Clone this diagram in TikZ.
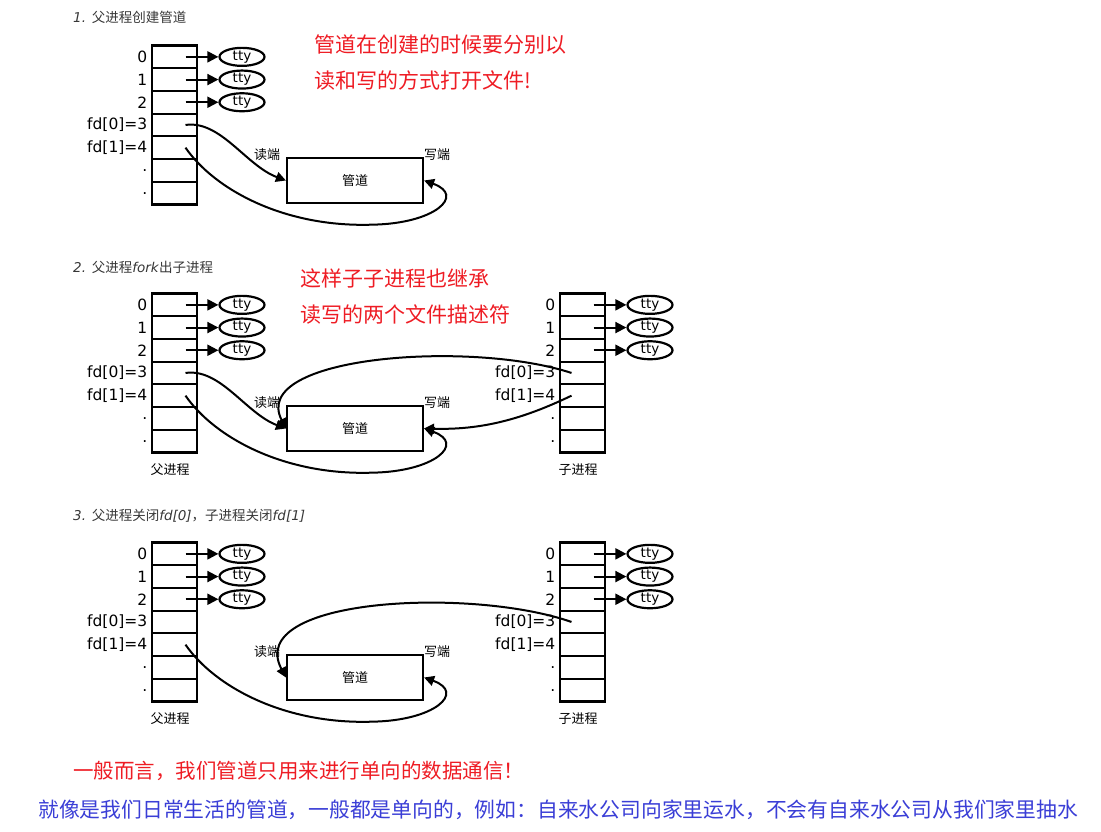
\documentclass[tikz,border=0pt]{standalone}
\usepackage{fontspec}
\setmainfont{DejaVu Sans}
\newfontfamily\cjk{Noto Sans CJK SC}
\usepackage{tikz}
\usetikzlibrary{positioning,arrows.meta,shapes.geometric,calc}

\definecolor{notered}{RGB}{238,28,36}
\definecolor{noteblue}{RGB}{58,62,214}
\definecolor{titlegray}{RGB}{55,55,55}

\begin{document}
\begin{tikzpicture}[x=1pt, y=-1pt,
    cell/.style={rectangle, draw, line width=2.2pt, minimum width=45pt, minimum height=22.7pt, inner sep=0pt, outer sep=0pt},
    fdlabel/.style={anchor=east, inner sep=0pt, font=\fontsize{15.5}{15.5}\selectfont},
    tty/.style={ellipse, draw, line width=2.2pt, minimum width=45pt, minimum height=18pt, inner sep=0pt, font=\fontsize{13.5}{13.5}\selectfont},
    pipe/.style={rectangle, draw, line width=2.2pt, minimum width=136pt, minimum height=45pt, font=\cjk\fontsize{13}{13}\selectfont},
    small/.style={inner sep=0pt, font=\cjk\fontsize{13}{13}\selectfont},
    title/.style={anchor=west, inner sep=0pt, text=titlegray, font=\fontsize{13.5}{13.5}\selectfont},
    note/.style={anchor=west, inner sep=0pt, text=notered, font=\cjk\fontsize{21}{21}\selectfont},
    arrow/.style={-{Triangle[length=10pt,width=10pt]}, line width=2pt}
]
\useasboundingbox (0,0) rectangle (1101,831);

% titles
\node[title] (title1) at (73,17) {\textit{1.} {\cjk 父进程创建管道}};
\node[title] (title2) at (73,267) {\textit{2.} {\cjk 父进程}\textit{fork}{\cjk 出子进程}};
\node[title] (title3) at (73,516) {\textit{3.} {\cjk 父进程关闭}\textit{fd[0]}{\cjk ，子进程关闭}\textit{fd[1]}};

% red remarks
\node[note] (note1a) at (314,45) {管道在创建的时候要分别以};
\node[note] (note1b) at (314,80) {读和写的方式打开文件!};
\node[note] (note2a) at (300,278) {这样子子进程也继承};
\node[note] (note2b) at (300,314) {读写的两个文件描述符};

% fd tables with tty
\foreach \tb/\x/\y in {p1/174.5/45.5, p2/174.5/293.5, c2/582.5/293.5, p3/174.5/542.5, c3/582.5/542.5} {
  \foreach \i/\lab in {0/0, 1/1, 2/2, 3/{fd[0]=3}, 4/{fd[1]=4}, 5/., 6/.} {
    \node[cell] (\tb r\i) at (\x, \y+11.35+22.7*\i) {};
    \node[fdlabel] (\tb l\i) at (\x-27, \y+11.35+22.7*\i) {\lab};
  }
  \foreach \i in {0,1,2} {
    \node[tty] (\tb t\i) at (\x+67.5, \y+11.35+22.7*\i) {tty};
    \draw[arrow, -{Triangle[length=11pt,width=11pt]}] ([xshift=11pt]\tb r\i.center) -- (\tb t\i);
  }
}
\node[small] (father2) at (170,470) {父进程};
\node[small] (child2) at (578,470) {子进程};
\node[small] (father3) at (170,719) {父进程};
\node[small] (child3) at (578,719) {子进程};

% pipes
\foreach \k/\y in {1/180.5, 2/428.5, 3/677.5} {
  \node[pipe] (pipe\k) at (355,\y) {管道};
  \node[small] (rd\k) at (267,\y-26) {读端};
  \node[small] (wr\k) at (437,\y-26) {写端};
  % parent write end
  \draw[arrow] ([xshift=11pt]p\k r4.center) .. controls +(29,42) and +(-88,3) .. ++(187,77)
    .. controls +(62,-1) and +(42,15) .. (pipe\k.east);
}
% parent read end
\foreach \k in {1,2}
  \draw[arrow] ([xshift=11pt]p\k r3.center) .. controls +(35,-5) and +(-40,-15) .. (pipe\k.west);

% child
\draw[arrow] ([xshift=-11pt]c2r3.center) .. controls +(-100,-33) and +(-37,-73) .. (pipe2.west);
\draw[arrow] ([xshift=-11pt]c2r4.center) .. controls +(-50,24) and +(57,1.5) .. (pipe2.east);
\draw[arrow] ([xshift=-11pt]c3r3.center) .. controls +(-100,-35) and +(-42,-80) .. (pipe3.west);

% bottom remarks
\node[note, font=\cjk\fontsize{20.5}{20.5}\selectfont] (sum1) at (73,771) {一般而言，我们管道只用来进行单向的数据通信！};
\node[note, text=noteblue, font=\cjk\fontsize{20.8}{20.8}\selectfont] (sum2) at (38,810) {就像是我们日常生活的管道，一般都是单向的，例如：自来水公司向家里运水，不会有自来水公司从我们家里抽水};
\end{tikzpicture}
\end{document}
